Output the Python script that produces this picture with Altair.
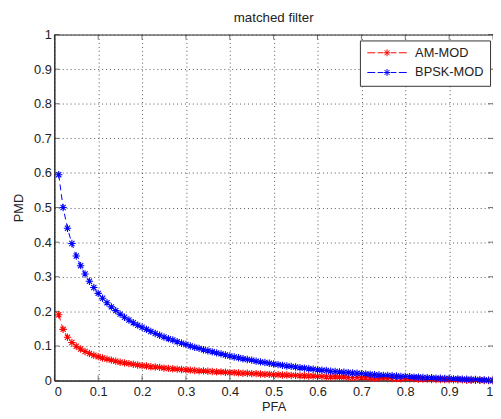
import altair as alt
import pandas as pd

pfa = [round(0.01 * i, 2) for i in range(1, 101)]

am_mod = [
    0.190, 0.148, 0.125, 0.110, 0.099, 0.091, 0.084, 0.078, 0.073, 0.069,
    0.065, 0.062, 0.059, 0.056, 0.053, 0.051, 0.049, 0.047, 0.045, 0.043,
    0.042, 0.040, 0.039, 0.038, 0.036, 0.035, 0.034, 0.033, 0.032, 0.031,
    0.030, 0.029, 0.028, 0.028, 0.027, 0.026, 0.025, 0.025, 0.024, 0.023,
    0.023, 0.022, 0.021, 0.021, 0.020, 0.020, 0.019, 0.018, 0.018, 0.017,
    0.017, 0.016, 0.016, 0.015, 0.015, 0.014, 0.014, 0.013, 0.013, 0.012,
    0.012, 0.011, 0.011, 0.011, 0.010, 0.010, 0.009, 0.009, 0.009, 0.008,
    0.008, 0.008, 0.007, 0.007, 0.007, 0.006, 0.006, 0.006, 0.005, 0.005,
    0.005, 0.005, 0.004, 0.004, 0.004, 0.003, 0.003, 0.003, 0.003, 0.002,
    0.002, 0.002, 0.002, 0.001, 0.001, 0.001, 0.001, 0.000, 0.000, 0.000,
]

bpsk_mod = [
    0.595, 0.500, 0.440, 0.396, 0.360, 0.332, 0.308, 0.287, 0.269, 0.252,
    0.238, 0.225, 0.213, 0.202, 0.192, 0.183, 0.175, 0.167, 0.160, 0.154,
    0.148, 0.142, 0.136, 0.131, 0.126, 0.121, 0.117, 0.112, 0.108, 0.104,
    0.100, 0.096, 0.093, 0.089, 0.086, 0.083, 0.080, 0.077, 0.074, 0.071,
    0.068, 0.066, 0.063, 0.061, 0.059, 0.056, 0.054, 0.052, 0.050, 0.048,
    0.046, 0.044, 0.042, 0.041, 0.039, 0.037, 0.036, 0.034, 0.033, 0.031,
    0.030, 0.029, 0.027, 0.026, 0.025, 0.024, 0.023, 0.022, 0.021, 0.020,
    0.019, 0.018, 0.017, 0.016, 0.015, 0.015, 0.014, 0.013, 0.012, 0.012,
    0.011, 0.010, 0.010, 0.009, 0.008, 0.008, 0.007, 0.007, 0.006, 0.006,
    0.005, 0.005, 0.004, 0.004, 0.003, 0.003, 0.002, 0.002, 0.001, 0.000,
]

series_names = ["AM-MOD", "BPSK-MOD"]
series_colors = ["#ff0000", "#0000ff"]
tick_values = [0, 0.1, 0.2, 0.3, 0.4, 0.5, 0.6, 0.7, 0.8, 0.9, 1]

df = pd.concat([
    pd.DataFrame({"PFA": pfa, "PMD": am_mod, "series": series_names[0]}),
    pd.DataFrame({"PFA": pfa, "PMD": bpsk_mod, "series": series_names[1]}),
])
ticks_df = pd.DataFrame({"v": tick_values, "lo": 0.0, "hi": 1.0})

FONT = "Liberation Sans"
TXT = "#222222"
STAR = "M-1,0L1,0M0,-1L0,1M-0.7,-0.7L0.7,0.7M-0.7,0.7L0.7,-0.7"
LEG_SYM = ("M-1,0L0.6,0M1.1,0L2.2,0M3.8,0L4.9,0M5.4,0L7,0"
           "M2.3,0L3.7,0M3,-0.7L3,0.7M2.5,-0.5L3.5,0.5M2.5,0.5L3.5,-0.5")

xs = alt.Scale(domain=[0, 1], nice=False)
ys = alt.Scale(domain=[0, 1], nice=False)
x_axis = alt.Axis(values=tick_values, format="~g", title="PFA",
                  labelPadding=5, titlePadding=2, labelOverlap=False)
y_axis = alt.Axis(values=tick_values, format="~g", title="PMD",
                  labelPadding=3, titlePadding=8, labelOverlap=False)

x_enc = alt.X("PFA:Q", scale=xs, axis=x_axis)
y_enc = alt.Y("PMD:Q", scale=ys, axis=y_axis)
color_enc = alt.Color(
    "series:N",
    scale=alt.Scale(domain=series_names, range=series_colors),
    legend=alt.Legend(
        title=None, orient="none", legendX=310, legendY=6,
        symbolType=LEG_SYM, symbolSize=100, symbolStrokeWidth=1,
        symbolFillColor="transparent", labelFont=FONT, labelFontSize=13,
        labelColor=TXT, labelOffset=37, rowPadding=6,
        strokeColor="#333", fillColor="white", padding=6,
    ),
)

lines = alt.Chart(df).mark_line(strokeDash=[6, 4], strokeWidth=1).encode(
    x=x_enc, y=y_enc, color=color_enc, detail="series:N"
)
points = alt.Chart(df).mark_point(shape=STAR, filled=False, size=56, strokeWidth=1.1,
                                   opacity=1).encode(
    x=x_enc, y=y_enc, color=color_enc
)

tk = dict(color="#333", thickness=1, size=5)
xt_bottom = alt.Chart(ticks_df).mark_tick(orient="vertical", yOffset=-2.5, **tk).encode(
    x=alt.X("v:Q", scale=xs, axis=x_axis), y=alt.Y("lo:Q", scale=ys, axis=y_axis))
xt_top = alt.Chart(ticks_df).mark_tick(orient="vertical", yOffset=2.5, **tk).encode(
    x=alt.X("v:Q", scale=xs, axis=x_axis), y=alt.Y("hi:Q", scale=ys, axis=y_axis))
yt_left = alt.Chart(ticks_df).mark_tick(orient="horizontal", xOffset=2.5, **tk).encode(
    y=alt.Y("v:Q", scale=ys, axis=y_axis), x=alt.X("lo:Q", scale=xs, axis=x_axis))
yt_right = alt.Chart(ticks_df).mark_tick(orient="horizontal", xOffset=-2.5, **tk).encode(
    y=alt.Y("v:Q", scale=ys, axis=y_axis), x=alt.X("hi:Q", scale=xs, axis=x_axis))

chart = alt.layer(lines, points, xt_bottom, xt_top, yt_left, yt_right).properties(
    width=445, height=351,
    title=alt.Title("matched filter", fontSize=13.5, fontWeight="normal", font=FONT,
                    color=TXT, offset=4),
    autosize=alt.AutoSizeParams(type="none"),
    padding={"left": 47, "top": 24, "right": 0, "bottom": 30},
).configure(
    background="white"
).configure_view(
    stroke="#222", strokeWidth=1
).configure_axis(
    grid=True, gridDash=[1, 3], gridColor="#555", gridOpacity=1, gridWidth=1,
    domainColor="#222", ticks=False, tickSize=0,
    labelFont=FONT, labelFontSize=13, labelColor=TXT,
    titleFont=FONT, titleFontSize=13, titleFontWeight="normal", titleColor=TXT,
)

chart.save("out.html", embed_options={"renderer": "svg", "actions": False})
